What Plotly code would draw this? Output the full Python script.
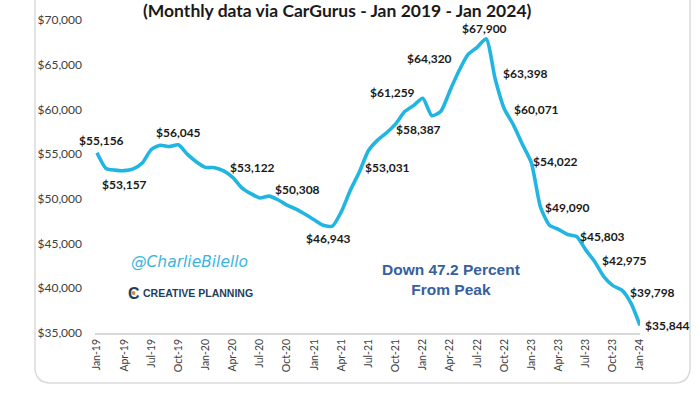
import plotly.graph_objects as go

# ---- data (monthly, Jan 2019 - Jan 2024) ----
months = []
for yr in range(19, 25):
    for m in ["Jan", "Feb", "Mar", "Apr", "May", "Jun", "Jul", "Aug", "Sep", "Oct", "Nov", "Dec"]:
        months.append(f"{m}-{yr}")
months = months[:61]

prices = [
    55156, 53400, 53210, 53157, 53350, 54000, 55520, 56000, 55850, 56045,
    54970, 54130, 53520, 53490, 53122, 52400, 51240, 50590, 50100, 50308,
    49900, 49300, 48850, 48280, 47660, 47050, 46943, 48570, 50980, 53031,
    55400, 56570, 57390, 58387, 59760, 60450, 61259, 59300, 59800, 62100,
    64320, 66150, 66950, 67900, 63398, 60071, 58300, 56100, 54022, 49090,
    47050, 46590, 46010, 45803, 44300, 42975, 41300, 40300, 39798, 38350,
    35844,
]

# labelled points: index -> (xanchor, yanchor, xshift, yshift)
label_idx = [0, 3, 9, 14, 19, 26, 29, 33, 36, 40, 43, 44, 45, 48, 49, 53, 55, 58, 60]
label_pos = {
    0: ("center", "bottom", 5, 3),
    3: ("center", "top", 0, -4),
    9: ("center", "bottom", 0, 3),
    14: ("left", "middle", 4, 3),
    19: ("left", "middle", 4, 7),
    26: ("center", "top", -4, -3),
    29: ("left", "middle", 4, 4),
    33: ("left", "middle", -2, -6),
    36: ("right", "middle", -6, 6),
    40: ("right", "middle", -5, 12),
    43: ("center", "bottom", -2, 1),
    44: ("left", "middle", 6, 6),
    45: ("left", "middle", 8, -1),
    48: ("left", "middle", 0, 1),
    49: ("left", "middle", 3, 0),
    53: ("left", "middle", 1, 0),
    55: ("left", "middle", 5, 1),
    58: ("left", "middle", 6, -2),
    60: ("left", "middle", 3, 0),
}

tick_idx = list(range(0, 61, 3))
tick_text = [months[i] for i in tick_idx]
y_ticks = [35000, 40000, 45000, 50000, 55000, 60000, 65000, 70000]
y_text = [f"${v:,}" for v in y_ticks]

title_text = "<b>(Monthly data via CarGurus - Jan 2019 - Jan 2024)</b>"
callout_text = "<b>Down 47.2 Percent<br>From Peak</b>"

LINE_COLOR = "#21B5E2"
FONT = "Lato"

fig = go.Figure()
fig.add_trace(go.Scatter(
    x=list(range(len(prices))), y=prices, mode="lines",
    line=dict(color=LINE_COLOR, width=3.6, shape="spline", smoothing=0.6),
    cliponaxis=False, hoverinfo="skip", showlegend=False,
))

W, H = 700, 394
L, T = 95, 20
R = W - 640
B = H - 333
pw, ph = W - L - R, H - T - B


def px(x):
    return (x - L) / pw


def py(y):
    return (H - B - y) / ph


# card outline with rounded bottom corners
cl, cr, cb, ct, rad = 35, 690, 383, -10, 16
path = (
    f"M {px(cl)},{py(ct)} L {px(cl)},{py(cb - rad)} "
    f"Q {px(cl)},{py(cb)} {px(cl + rad)},{py(cb)} "
    f"L {px(cr - rad)},{py(cb)} Q {px(cr)},{py(cb)} {px(cr)},{py(cb - rad)} "
    f"L {px(cr)},{py(ct)}"
)
fig.add_shape(type="path", path=path, xref="paper", yref="paper",
              line=dict(color="#DADADA", width=1.5), layer="below")

anns = []
for i in label_idx:
    xa, ya, xs, ys = label_pos[i]
    anns.append(dict(
        x=i, y=prices[i], xref="x", yref="y", text=f"<b>${prices[i]:,}</b>",
        showarrow=False, xanchor=xa, yanchor=ya, xshift=xs, yshift=ys,
        font=dict(family=FONT, size=12, color="#1A1A1A"),
    ))

anns.append(dict(x=px(337), y=py(11), xref="paper", yref="paper", text=title_text,
                 showarrow=False, xanchor="center", yanchor="middle",
                 font=dict(family=FONT, size=17.5, color="#1A1A1A")))
anns.append(dict(x=px(451), y=py(279), xref="paper", yref="paper", text=callout_text,
                 showarrow=False, xanchor="center", yanchor="middle", align="center",
                 font=dict(family="Liberation Sans", size=15.5, color="#36609E")))
anns.append(dict(x=px(129), y=py(262), xref="paper", yref="paper",
                 text="<i>@CharlieBilello</i>", showarrow=False,
                 xanchor="left", yanchor="middle",
                 font=dict(family="DejaVu Sans", size=15.5, color="#3CB4DC")))
anns.append(dict(x=px(126), y=py(293), xref="paper", yref="paper",
                 text="<b>C</b>", showarrow=False, xanchor="left", yanchor="middle",
                 font=dict(family="Liberation Sans", size=16, color="#1F3F5C")))
anns.append(dict(x=px(141), y=py(293), xref="paper", yref="paper",
                 text="<b>CREATIVE PLANNING</b>", showarrow=False,
                 xanchor="left", yanchor="middle",
                 font=dict(family="Liberation Sans", size=10.5, color="#1F3F5C")))

fig.add_shape(type="circle", xref="paper", yref="paper",
              x0=px(131.5), x1=px(135.5), y0=py(295), y1=py(291),
              fillcolor="#D9893B", line=dict(width=0))

fig.update_layout(
    width=W, height=H, autosize=False,
    margin=dict(l=L, r=R, t=T, b=B),
    paper_bgcolor="white", plot_bgcolor="white",
    annotations=anns,
    xaxis=dict(
        range=[-0.22, 60], tickmode="array", tickvals=tick_idx, ticktext=tick_text,
        tickangle=-90, showgrid=False, zeroline=False,
        showline=True, linecolor="#D9D9D9", linewidth=1.5, ticks="",
        tickfont=dict(family=FONT, size=10.5, color="#404040"),
    ),
    yaxis=dict(
        range=[35000, 70000], tickmode="array", tickvals=y_ticks, ticktext=y_text,
        showgrid=False, zeroline=False, showline=False, ticks="",
        ticklabelstandoff=12,
        tickfont=dict(family=FONT, size=12, color="#404040"),
    ),
)

fig.write_html("out.html", config={"displayModeBar": False},
               post_script="document.body.style.margin='0';")
